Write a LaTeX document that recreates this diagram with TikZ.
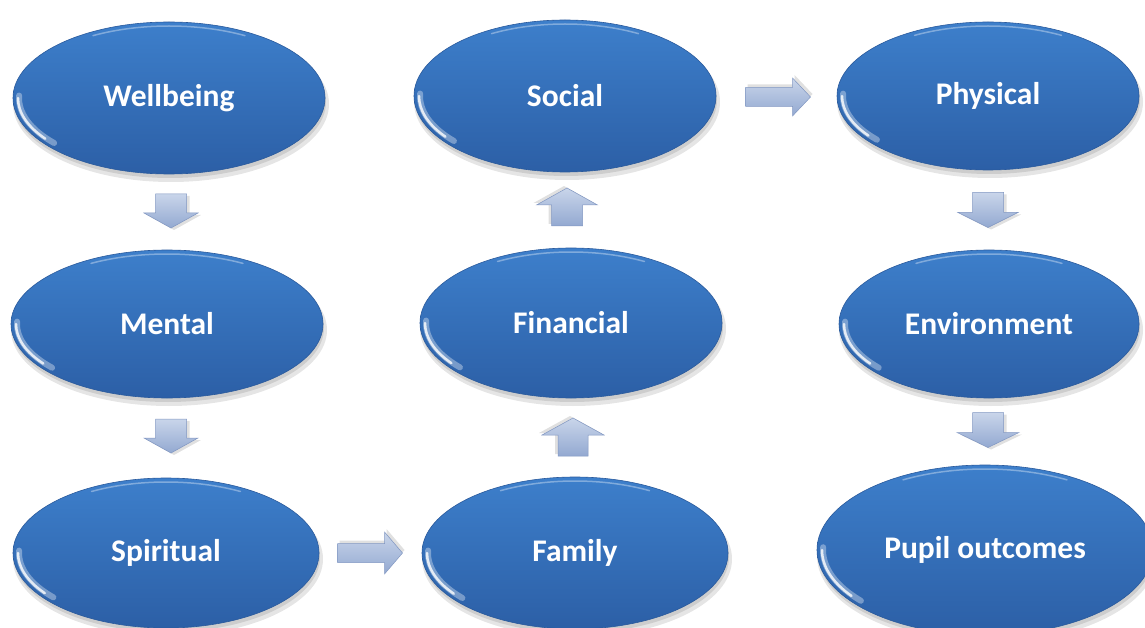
\documentclass[tikz,border=0pt]{standalone}
\usepackage{fontspec}
\setmainfont{Carlito}
\usetikzlibrary{shapes.geometric,calc}
\definecolor{ovtop}{HTML}{3D7FCB}
\definecolor{ovbot}{HTML}{2C5FA6}
\definecolor{ovedge}{HTML}{2A5A9C}
\definecolor{artop}{HTML}{C9D5EA}
\definecolor{arbot}{HTML}{93A9D1}
\definecolor{aredge}{HTML}{8197C2}
\tikzset{
  ovalnode/.style={ellipse, inner sep=0pt, top color=ovtop, bottom color=ovbot,
    draw=ovedge, line width=0.6pt, text=white,
    font=\fontsize{31.5}{34}\selectfont\bfseries},
  blockarrow/.style={top color=artop, bottom color=arbot, draw=aredge, line width=0.5pt},
  rimglow/.style={white, opacity=0.35, line width=6pt, line cap=round},
  rimlight/.style={white, opacity=0.8, line width=2.5pt, line cap=round},
  toplight/.style={white, opacity=0.35, line width=1.5pt, line cap=round},
}
% #1 name, #2 cx, #3 cy, #4 rx, #5 ry, #6 text
\newcommand\myoval[6]{%
  \fill[black, opacity=0.10] (#2+2,#3+6) ellipse[x radius=#4+2, y radius=#5+2];
  \fill[black, opacity=0.10] (#2+1,#3+4) ellipse[x radius=#4, y radius=#5];
  \node[ovalnode, minimum width=2*#4, minimum height=2*#5] (#1) at (#2,#3) {#6};
  \draw[rimglow] ($(#1.center)+(182:#4-6 and #5-6)$)
     arc[start angle=182, end angle=140, x radius=#4-6, y radius=#5-6];
  \draw[rimlight] ($(#1.center)+(180:#4-5 and #5-5)$)
     arc[start angle=180, end angle=145, x radius=#4-5, y radius=#5-5];
  \draw[toplight] ($(#1.center)+(240:#4-4 and #5-4)$)
     arc[start angle=240, end angle=300, x radius=#4-4, y radius=#5-4];
}
% #1 cx, #2 cy, #3 rotation, #4 length, #5 head width, #6 shaft width, #7 head length
\newcommand\myarrow[7]{%
  \begin{scope}[shift={(#1,#2)}, rotate=#3]
    \fill[black, opacity=0.12] (-#4/2+2,-#6/2-3) -- (#4/2-#7+2,-#6/2-3) -- (#4/2-#7+2,-#5/2-3)
      -- (#4/2+2,-3) -- (#4/2-#7+2,#5/2-3) -- (#4/2-#7+2,#6/2-3) -- (-#4/2+2,#6/2-3) -- cycle;
    \path[blockarrow] (-#4/2,-#6/2) -- (#4/2-#7,-#6/2) -- (#4/2-#7,-#5/2)
      -- (#4/2,0) -- (#4/2-#7,#5/2) -- (#4/2-#7,#6/2) -- (-#4/2,#6/2) -- cycle;
  \end{scope}%
}
\begin{document}
\begin{tikzpicture}[x=1pt, y=-1pt]
\useasboundingbox (0,0) rectangle (1145,628);
\clip (0,0) rectangle (1145,628);
\fill[white] (0,0) rectangle (1145,628);
% ovals
\myoval{wellbeing}{169}{98}{156}{76}{Wellbeing}
\myoval{mental}{167}{324}{156}{74}{Mental}
\myoval{spiritual}{166}{553}{153}{75}{Spiritual}
\myoval{social}{565}{96}{151}{76}{Social}
\myoval{financial}{571}{323}{151}{75}{Financial}
\myoval{family}{575}{553}{153}{76}{Family}
\myoval{physical}{988}{96}{151}{74}{Physical}
\myoval{environment}{989}{324}{150}{74}{Environment}
\myoval{pupil}{985}{550}{168}{85}{Pupil outcomes}
% block arrows
\myarrow{171}{211}{-90}{34}{54}{31}{15}
\myarrow{171}{436}{-90}{34}{54}{31}{15}
\myarrow{370}{553}{0}{65}{42}{19}{18}
\myarrow{573}{437}{90}{38}{62}{30}{17}
\myarrow{567}{207}{90}{38}{61}{31}{17}
\myarrow{778}{97}{0}{65}{38}{19}{18}
\myarrow{988}{210}{-90}{35}{60}{31}{15}
\myarrow{988}{430}{-90}{35}{62}{31}{15}
\end{tikzpicture}
\end{document}
